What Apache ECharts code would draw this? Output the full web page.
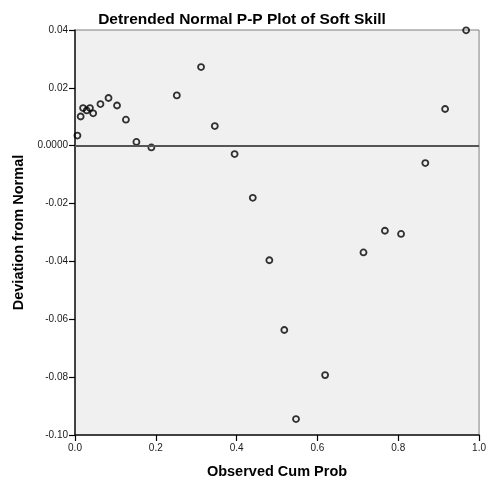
<!DOCTYPE html>
<html>
<head>
<meta charset="utf-8">
<script src="https://cdn.jsdelivr.net/npm/echarts@6/dist/echarts.min.js"></script>
<style>
  html, body { margin: 0; padding: 0; background: #ffffff; }
  #chart { width: 489px; height: 486px; }
</style>
</head>
<body>
<div id="chart"></div>
<script>
// Observed cumulative probability of each case
var observedCumProb = [
  0.006, 0.014, 0.020, 0.029, 0.037, 0.045, 0.063, 0.083, 0.104, 0.126,
  0.152, 0.189, 0.252, 0.312, 0.346, 0.395, 0.440, 0.481, 0.518, 0.547,
  0.619, 0.714, 0.767, 0.807, 0.867, 0.916, 0.968
];
// Deviation of each case from the expected normal cumulative probability
var deviationFromNormal = [
  0.0035, 0.0101, 0.0130, 0.0122, 0.0130, 0.0112, 0.0144, 0.0165, 0.0139, 0.0090,
  0.0013, -0.0006, 0.0174, 0.0272, 0.0068, -0.0029, -0.0180, -0.0396, -0.0637, -0.0945,
  -0.0793, -0.0369, -0.0294, -0.0305, -0.0060, 0.0127, 0.0399
];
var yTickLabels = { '0.04': '0.04', '0.02': '0.02', '0': '0.0000', '-0.02': '-0.02',
  '-0.04': '-0.04', '-0.06': '-0.06', '-0.08': '-0.08', '-0.1': '-0.10' };

var points = observedCumProb.map(function (x, i) { return [x, deviationFromNormal[i]]; });

var font = 'Arial, "Liberation Sans", sans-serif';
var chart = echarts.init(document.getElementById('chart'), null, { renderer: 'canvas' });
chart.setOption({
  animation: false,
  backgroundColor: '#ffffff',
  title: {
    text: 'Detrended Normal P-P Plot of Soft Skill',
    left: 237, top: 7, textAlign: 'center',
    textStyle: { fontFamily: font, fontSize: 15.5, fontWeight: 'bold', color: '#000' }
  },
  grid: {
    left: 75, right: 9, top: 30, bottom: 51,
    show: true, backgroundColor: '#f0f0f0', borderColor: '#7f7f7f', borderWidth: 1
  },
  xAxis: {
    type: 'value', min: 0, max: 1, interval: 0.2,
    name: 'Observed Cum Prob', nameLocation: 'middle', nameGap: 29,
    nameTextStyle: { fontFamily: font, fontSize: 14.5, fontWeight: 'bold', color: '#000' },
    axisLine: { show: true, onZero: false, lineStyle: { color: '#1a1a1a', width: 1.5 } },
    axisTick: { show: true, inside: false, length: 6, lineStyle: { color: '#000000', width: 1.2 } },
    axisLabel: {
      fontFamily: font, fontSize: 10, color: '#1a1a1a', margin: 8,
      formatter: function (v) { return v.toFixed(1); }
    },
    splitLine: { show: false }
  },
  yAxis: {
    type: 'value', min: -0.1, max: 0.04, interval: 0.02,
    name: 'Deviation from Normal', nameLocation: 'middle', nameGap: 48,
    nameTextStyle: { fontFamily: font, fontSize: 14.5, fontWeight: 'bold', color: '#000' },
    axisLine: { show: true, onZero: false, lineStyle: { color: '#1a1a1a', width: 1.5 } },
    axisTick: { show: true, inside: false, length: 6, lineStyle: { color: '#000000', width: 1.2 } },
    axisLabel: {
      fontFamily: font, fontSize: 10, color: '#1a1a1a', margin: 7,
      formatter: function (v) {
        var k = String(Math.round(v * 100) / 100);
        return yTickLabels[k] !== undefined ? yTickLabels[k] : v.toFixed(2);
      }
    },
    splitLine: { show: false }
  },
  series: [{
    type: 'scatter',
    data: points,
    symbol: 'circle',
    symbolSize: 6,
    itemStyle: { color: 'rgba(0,0,0,0)', borderColor: '#000', borderWidth: 1.8 },
    markLine: {
      silent: true, symbol: 'none',
      label: { show: false },
      lineStyle: { color: '#555555', width: 2, type: 'solid' },
      data: [{ yAxis: 0 }]
    },
    z: 3
  }]
});
</script>
</body>
</html>
